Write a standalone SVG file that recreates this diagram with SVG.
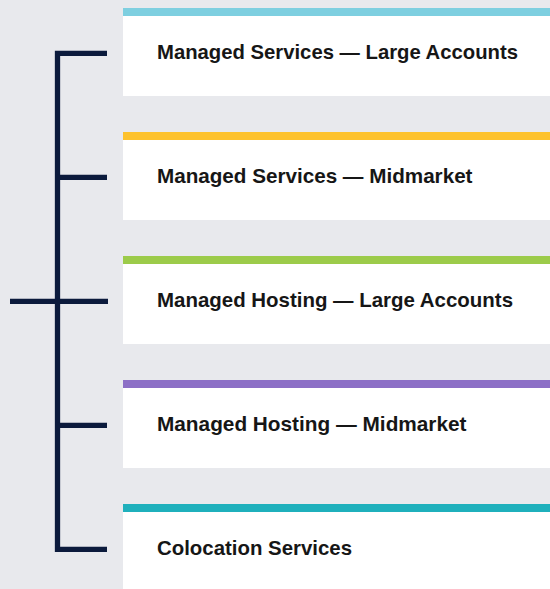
<svg xmlns="http://www.w3.org/2000/svg" width="550" height="589" viewBox="0 0 550 589">
<style>
.box{fill:#ffffff}
.lbl{font-family:"Liberation Sans",Arial,sans-serif;font-weight:bold;font-size:21px;fill:#161616}
.tree{fill:none;stroke:#0b1a3c;stroke-width:5.3;stroke-linejoin:miter;stroke-linecap:butt}
</style>
<rect x="0" y="0" width="550" height="589" fill="#e8e9ed"/>
<g id="connectors">
<path class="tree" d="M107,53.3 H57.5 V549.3 H107"/>
<path class="tree" d="M57.5,177.3 H107 M10,301.3 H108 M57.5,425.3 H107"/>
</g>
<g id="node1">
<rect class="box" x="123" y="8" width="427" height="88"/>
<rect x="123" y="8" width="427" height="8" fill="#7ecfe0"/>
<text class="lbl" x="157" y="59" textLength="361" lengthAdjust="spacingAndGlyphs">Managed Services — Large Accounts</text>
</g>
<g id="node2">
<rect class="box" x="123" y="132" width="427" height="88"/>
<rect x="123" y="132" width="427" height="8" fill="#fdc22d"/>
<text class="lbl" x="157" y="183" textLength="315.5" lengthAdjust="spacingAndGlyphs">Managed Services — Midmarket</text>
</g>
<g id="node3">
<rect class="box" x="123" y="256" width="427" height="88"/>
<rect x="123" y="256" width="427" height="8" fill="#9ccb4a"/>
<text class="lbl" x="157" y="307" textLength="356" lengthAdjust="spacingAndGlyphs">Managed Hosting — Large Accounts</text>
</g>
<g id="node4">
<rect class="box" x="123" y="380" width="427" height="88"/>
<rect x="123" y="380" width="427" height="8" fill="#8c6fc6"/>
<text class="lbl" x="157" y="431" textLength="309.5" lengthAdjust="spacingAndGlyphs">Managed Hosting — Midmarket</text>
</g>
<g id="node5">
<rect class="box" x="123" y="504" width="427" height="85"/>
<rect x="123" y="504" width="427" height="8" fill="#1fb0bc"/>
<text class="lbl" x="157" y="555" textLength="195" lengthAdjust="spacingAndGlyphs">Colocation Services</text>
</g>
</svg>
